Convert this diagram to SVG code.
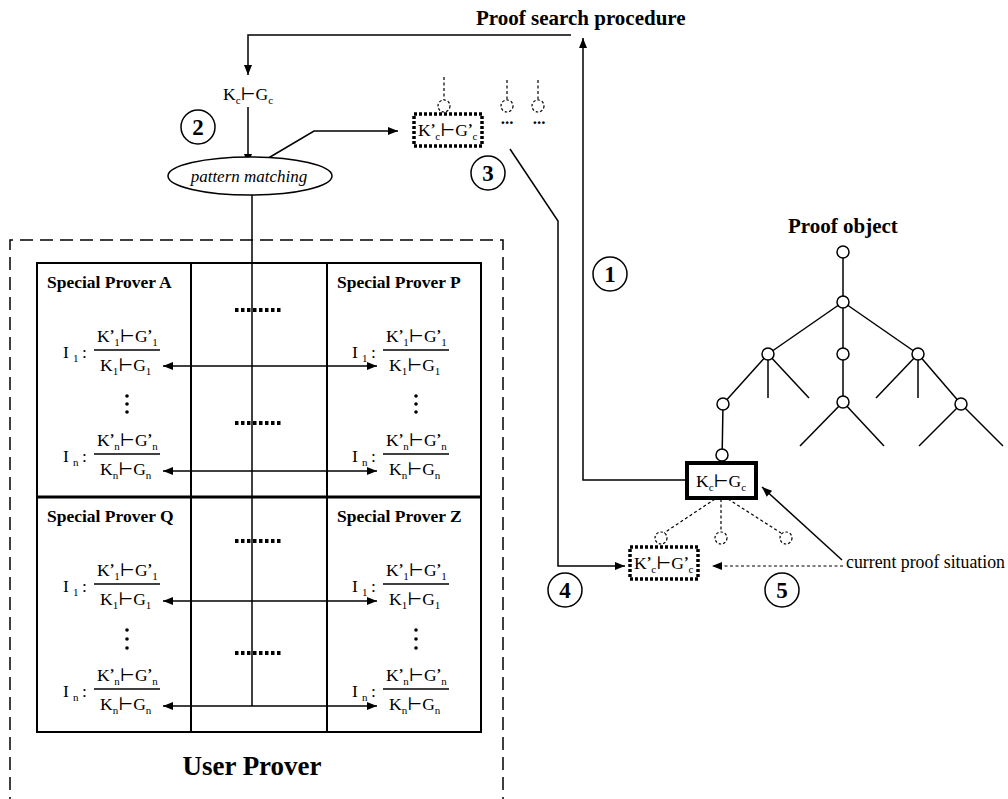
<svg xmlns="http://www.w3.org/2000/svg" width="1008" height="799" viewBox="0 0 1008 799">
<defs>
<style>
text { font-family: "Liberation Serif", "DejaVu Serif", serif; fill: #000; }
.t { font-size: 17.5px; }
.sb { font-size: 11px; }
.pr { font-size: 14px; font-weight: bold; }
.h { font-size: 21px; font-weight: bold; }
.sp { font-size: 17.5px; font-weight: bold; }
.ln { stroke: #000; stroke-width: 1.5; fill: none; }
.grid { stroke: #000; stroke-width: 2; fill: none; }
.dash { stroke: #000; stroke-width: 1.5; fill: none; stroke-dasharray: 13 7; }
.dot { stroke: #000; stroke-width: 1.2; fill: none; stroke-dasharray: 3 2.5; }
.dotbox { stroke: #000; stroke-width: 3.5; fill: #fff; stroke-dasharray: 3 2; }
.sep { stroke: #000; stroke-width: 4; stroke-dasharray: 3.5 2.5; }
.node { fill: #fff; stroke: #000; stroke-width: 1.5; }
.dnode { fill: #fff; stroke: #000; stroke-width: 1.2; stroke-dasharray: 2.5 2; }
.cn { fill: #fff; stroke: #000; stroke-width: 1.5; }
.cnt { font-size: 23px; font-weight: bold; text-anchor: middle; }
.vd { fill: #000; }
</style>
<marker id="ah" viewBox="0 0 10 8" refX="10" refY="4" markerWidth="11" markerHeight="8" markerUnits="userSpaceOnUse" orient="auto-start-reverse"><path d="M0,0 L10,4 L0,8 z" fill="#000"/></marker>
</defs>
<rect width="1008" height="799" fill="#fff"/>

<g id="user-prover">
<path class="dash" d="M10,810 L10,240 L503,240 L503,810"/>
<text x="252" y="775" text-anchor="middle" style="font-size:27px;font-weight:bold">User Prover</text>
</g>

<g id="grid">
<rect class="grid" x="37" y="263" width="444" height="469"/>
<line class="grid" x1="191" y1="263" x2="191" y2="732"/>
<line class="grid" x1="327" y1="263" x2="327" y2="732"/>
<line x1="37" y1="497" x2="481" y2="497" stroke="#000" stroke-width="3"/>
<line class="sep" x1="235" y1="310" x2="281" y2="310"/>
<line class="sep" x1="235" y1="423" x2="281" y2="423"/>
<line class="sep" x1="235" y1="541" x2="281" y2="541"/>
<line class="sep" x1="235" y1="653" x2="281" y2="653"/>
</g>

<g id="prover-a">
<text class="sp" x="47" y="288">Special Prover A</text>
<g transform="translate(94,350)">
<text class="t" x="-31" y="8">I</text><text class="sb" x="-21" y="12">1</text><text class="t" x="-12" y="8">:</text>
<text class="t" x="3" y="-8">K<tspan class="pr" dy="-2">’</tspan><tspan class="sb" dy="6">1</tspan><tspan dy="-4">⊢</tspan>G<tspan class="pr" dy="-2">’</tspan><tspan class="sb" dy="6">1</tspan></text>
<line class="ln" x1="0" y1="0" x2="66" y2="0"/>
<text class="t" x="6" y="21">K<tspan class="sb" dy="4">1</tspan><tspan dy="-4">⊢</tspan>G<tspan class="sb" dy="4">1</tspan></text>
<circle class="vd" cx="33" cy="46" r="1.8"/><circle class="vd" cx="33" cy="54" r="1.8"/><circle class="vd" cx="33" cy="62" r="1.8"/>
</g>
<g transform="translate(94,454)">
<text class="t" x="-31" y="8">I</text><text class="sb" x="-21" y="12">n</text><text class="t" x="-12" y="8">:</text>
<text class="t" x="3" y="-8">K<tspan class="pr" dy="-2">’</tspan><tspan class="sb" dy="6">n</tspan><tspan dy="-4">⊢</tspan>G<tspan class="pr" dy="-2">’</tspan><tspan class="sb" dy="6">n</tspan></text>
<line class="ln" x1="0" y1="0" x2="66" y2="0"/>
<text class="t" x="6" y="21">K<tspan class="sb" dy="4">n</tspan><tspan dy="-4">⊢</tspan>G<tspan class="sb" dy="4">n</tspan></text>
</g>
</g>

<g id="prover-p">
<text class="sp" x="337" y="288">Special Prover P</text>
<g transform="translate(383,350)">
<text class="t" x="-31" y="8">I</text><text class="sb" x="-21" y="12">1</text><text class="t" x="-12" y="8">:</text>
<text class="t" x="3" y="-8">K<tspan class="pr" dy="-2">’</tspan><tspan class="sb" dy="6">1</tspan><tspan dy="-4">⊢</tspan>G<tspan class="pr" dy="-2">’</tspan><tspan class="sb" dy="6">1</tspan></text>
<line class="ln" x1="0" y1="0" x2="66" y2="0"/>
<text class="t" x="6" y="21">K<tspan class="sb" dy="4">1</tspan><tspan dy="-4">⊢</tspan>G<tspan class="sb" dy="4">1</tspan></text>
<circle class="vd" cx="33" cy="46" r="1.8"/><circle class="vd" cx="33" cy="54" r="1.8"/><circle class="vd" cx="33" cy="62" r="1.8"/>
</g>
<g transform="translate(383,454)">
<text class="t" x="-31" y="8">I</text><text class="sb" x="-21" y="12">n</text><text class="t" x="-12" y="8">:</text>
<text class="t" x="3" y="-8">K<tspan class="pr" dy="-2">’</tspan><tspan class="sb" dy="6">n</tspan><tspan dy="-4">⊢</tspan>G<tspan class="pr" dy="-2">’</tspan><tspan class="sb" dy="6">n</tspan></text>
<line class="ln" x1="0" y1="0" x2="66" y2="0"/>
<text class="t" x="6" y="21">K<tspan class="sb" dy="4">n</tspan><tspan dy="-4">⊢</tspan>G<tspan class="sb" dy="4">n</tspan></text>
</g>
</g>

<g id="prover-q">
<text class="sp" x="47" y="522">Special Prover Q</text>
<g transform="translate(94,584)">
<text class="t" x="-31" y="8">I</text><text class="sb" x="-21" y="12">1</text><text class="t" x="-12" y="8">:</text>
<text class="t" x="3" y="-8">K<tspan class="pr" dy="-2">’</tspan><tspan class="sb" dy="6">1</tspan><tspan dy="-4">⊢</tspan>G<tspan class="pr" dy="-2">’</tspan><tspan class="sb" dy="6">1</tspan></text>
<line class="ln" x1="0" y1="0" x2="66" y2="0"/>
<text class="t" x="6" y="21">K<tspan class="sb" dy="4">1</tspan><tspan dy="-4">⊢</tspan>G<tspan class="sb" dy="4">1</tspan></text>
<circle class="vd" cx="33" cy="46" r="1.8"/><circle class="vd" cx="33" cy="55" r="1.8"/><circle class="vd" cx="33" cy="64" r="1.8"/>
</g>
<g transform="translate(94,689)">
<text class="t" x="-31" y="8">I</text><text class="sb" x="-21" y="12">n</text><text class="t" x="-12" y="8">:</text>
<text class="t" x="3" y="-8">K<tspan class="pr" dy="-2">’</tspan><tspan class="sb" dy="6">n</tspan><tspan dy="-4">⊢</tspan>G<tspan class="pr" dy="-2">’</tspan><tspan class="sb" dy="6">n</tspan></text>
<line class="ln" x1="0" y1="0" x2="66" y2="0"/>
<text class="t" x="6" y="21">K<tspan class="sb" dy="4">n</tspan><tspan dy="-4">⊢</tspan>G<tspan class="sb" dy="4">n</tspan></text>
</g>
</g>

<g id="prover-z">
<text class="sp" x="337" y="522">Special Prover Z</text>
<g transform="translate(383,584)">
<text class="t" x="-31" y="8">I</text><text class="sb" x="-21" y="12">1</text><text class="t" x="-12" y="8">:</text>
<text class="t" x="3" y="-8">K<tspan class="pr" dy="-2">’</tspan><tspan class="sb" dy="6">1</tspan><tspan dy="-4">⊢</tspan>G<tspan class="pr" dy="-2">’</tspan><tspan class="sb" dy="6">1</tspan></text>
<line class="ln" x1="0" y1="0" x2="66" y2="0"/>
<text class="t" x="6" y="21">K<tspan class="sb" dy="4">1</tspan><tspan dy="-4">⊢</tspan>G<tspan class="sb" dy="4">1</tspan></text>
<circle class="vd" cx="33" cy="46" r="1.8"/><circle class="vd" cx="33" cy="55" r="1.8"/><circle class="vd" cx="33" cy="64" r="1.8"/>
</g>
<g transform="translate(383,689)">
<text class="t" x="-31" y="8">I</text><text class="sb" x="-21" y="12">n</text><text class="t" x="-12" y="8">:</text>
<text class="t" x="3" y="-8">K<tspan class="pr" dy="-2">’</tspan><tspan class="sb" dy="6">n</tspan><tspan dy="-4">⊢</tspan>G<tspan class="pr" dy="-2">’</tspan><tspan class="sb" dy="6">n</tspan></text>
<line class="ln" x1="0" y1="0" x2="66" y2="0"/>
<text class="t" x="6" y="21">K<tspan class="sb" dy="4">n</tspan><tspan dy="-4">⊢</tspan>G<tspan class="sb" dy="4">n</tspan></text>
</g>
</g>

<g id="connectors">
<line class="ln" x1="252" y1="195" x2="252" y2="706"/>
<line class="ln" x1="163" y1="366" x2="377" y2="366" marker-start="url(#ah)" marker-end="url(#ah)"/>
<line class="ln" x1="163" y1="471" x2="377" y2="471" marker-start="url(#ah)" marker-end="url(#ah)"/>
<line class="ln" x1="163" y1="601" x2="377" y2="601" marker-start="url(#ah)" marker-end="url(#ah)"/>
<line class="ln" x1="163" y1="706" x2="377" y2="706" marker-start="url(#ah)" marker-end="url(#ah)"/>
<polyline class="ln" points="571,35 248,35 248,75" marker-end="url(#ah)"/>
<line class="ln" x1="248" y1="107" x2="248" y2="164" marker-end="url(#ah)"/>
<polyline class="ln" points="260,163 314,131 398,131" marker-end="url(#ah)"/>
<polyline class="ln" points="687,480 583,480 583,38" marker-end="url(#ah)"/>
<polyline class="ln" points="510,149 558,221 558,566 625,566" marker-end="url(#ah)"/>
<line class="ln" x1="842" y1="560" x2="762" y2="487" marker-end="url(#ah)"/>
<line class="dot" x1="843" y1="566" x2="712" y2="566" marker-end="url(#ah)"/>
<line class="dot" x1="444" y1="77" x2="444" y2="100"/>
<line class="dot" x1="507" y1="80" x2="507" y2="100"/>
<line class="dot" x1="538" y1="80" x2="538" y2="100"/>
<line class="dot" x1="715" y1="499" x2="664" y2="533"/>
<line class="dot" x1="721" y1="499" x2="721" y2="532"/>
<line class="dot" x1="728" y1="499" x2="781" y2="533"/>
<line class="ln" x1="843" y1="252" x2="843" y2="302"/>
<line class="ln" x1="843" y1="302" x2="768" y2="354"/>
<line class="ln" x1="843" y1="302" x2="843" y2="354"/>
<line class="ln" x1="843" y1="302" x2="918" y2="354"/>
<line class="ln" x1="768" y1="354" x2="723" y2="404"/>
<line class="ln" x1="768" y1="354" x2="768" y2="398"/>
<line class="ln" x1="768" y1="354" x2="809" y2="398"/>
<line class="ln" x1="843" y1="354" x2="843" y2="402"/>
<line class="ln" x1="843" y1="402" x2="800" y2="446"/>
<line class="ln" x1="843" y1="402" x2="884" y2="446"/>
<line class="ln" x1="918" y1="354" x2="876" y2="398"/>
<line class="ln" x1="918" y1="354" x2="918" y2="398"/>
<line class="ln" x1="918" y1="354" x2="961" y2="404"/>
<line class="ln" x1="961" y1="404" x2="919" y2="446"/>
<line class="ln" x1="961" y1="404" x2="1003" y2="446"/>
<line class="ln" x1="723" y1="404" x2="722" y2="463"/>
</g>

<g id="pattern-matching">
<ellipse class="node" cx="250" cy="176" rx="82" ry="19"/>
<text x="249" y="182" text-anchor="middle" style="font-size:17px;font-style:italic">pattern matching</text>
</g>

<g id="goal-top">
<text class="t" x="223" y="100">K<tspan class="sb" dy="4">c</tspan><tspan dy="-4">⊢</tspan>G<tspan class="sb" dy="4">c</tspan></text>
</g>

<g id="title-search">
<text class="h" x="476" y="25">Proof search procedure</text>
</g>

<g id="subgoal-top">
<circle class="dnode" cx="444" cy="106" r="6"/>
<circle class="dnode" cx="507" cy="106" r="6"/>
<circle class="dnode" cx="538" cy="106" r="6"/>
<text x="507" y="124" text-anchor="middle" style="font-size:17px;font-weight:bold">...</text>
<text x="539" y="124" text-anchor="middle" style="font-size:17px;font-weight:bold">...</text>
<rect class="dotbox" x="414" y="114" width="68" height="32"/>
<text class="t" x="418" y="136">K<tspan class="pr" dy="-2">’</tspan><tspan class="sb" dy="6">c</tspan><tspan dy="-4">⊢</tspan>G<tspan class="pr" dy="-2">’</tspan><tspan class="sb" dy="6">c</tspan></text>
</g>

<g id="proof-object">
<text class="h" x="788" y="233">Proof object</text>
<circle class="node" cx="843" cy="252" r="6"/>
<circle class="node" cx="843" cy="302" r="6"/>
<circle class="node" cx="768" cy="354" r="6"/>
<circle class="node" cx="843" cy="354" r="6"/>
<circle class="node" cx="918" cy="354" r="6"/>
<circle class="node" cx="723" cy="404" r="6"/>
<circle class="node" cx="843" cy="402" r="6"/>
<circle class="node" cx="961" cy="404" r="6"/>
<circle class="node" cx="722" cy="455" r="6"/>
</g>

<g id="current-goal">
<rect x="687" y="463" width="69" height="35" fill="#fff" stroke="#000" stroke-width="4"/>
<text class="t" x="696" y="487">K<tspan class="sb" dy="4">c</tspan><tspan dy="-4">⊢</tspan>G<tspan class="sb" dy="4">c</tspan></text>
</g>

<g id="new-subgoals">
<circle class="dnode" cx="661" cy="538" r="6"/>
<circle class="dnode" cx="721" cy="538" r="6"/>
<circle class="dnode" cx="786" cy="538" r="6"/>
<rect class="dotbox" x="630" y="547" width="68" height="32"/>
<text class="t" x="634" y="569">K<tspan class="pr" dy="-2">’</tspan><tspan class="sb" dy="6">c</tspan><tspan dy="-4">⊢</tspan>G<tspan class="pr" dy="-2">’</tspan><tspan class="sb" dy="6">c</tspan></text>
</g>

<g id="label-current">
<text x="846" y="568" style="font-size:17.8px">current proof situation</text>
</g>

<g id="step-1"><circle class="cn" cx="610" cy="274" r="17"/><text class="cnt" x="610" y="282">1</text></g>
<g id="step-2"><circle class="cn" cx="198" cy="127" r="17"/><text class="cnt" x="198" y="135">2</text></g>
<g id="step-3"><circle class="cn" cx="488" cy="173" r="17"/><text class="cnt" x="488" y="181">3</text></g>
<g id="step-4"><circle class="cn" cx="565" cy="590" r="17"/><text class="cnt" x="565" y="598">4</text></g>
<g id="step-5"><circle class="cn" cx="782" cy="590" r="17"/><text class="cnt" x="782" y="598">5</text></g>
</svg>
